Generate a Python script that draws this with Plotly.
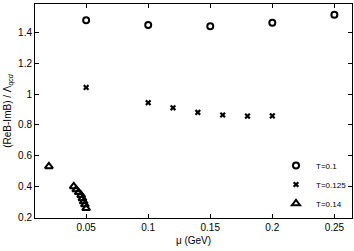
import plotly.graph_objects as go

mu_t1 = [0.05, 0.1, 0.15, 0.2, 0.25]
val_t1 = [1.48, 1.448, 1.44, 1.463, 1.515]

mu_t2 = [0.05, 0.1, 0.12, 0.14, 0.16, 0.18, 0.2]
val_t2 = [1.043, 0.944, 0.911, 0.881, 0.864, 0.857, 0.858]

mu_t3 = [0.02, 0.040, 0.042, 0.044, 0.046, 0.047, 0.048, 0.049, 0.050]
val_t3 = [0.53, 0.400, 0.380, 0.362, 0.343, 0.322, 0.302, 0.282, 0.258]

x_ticks = [0.05, 0.1, 0.15, 0.2, 0.25]
x_labels = ["0.05", "0.1", "0.15", "0.2", "0.25"]
y_ticks = [0.2, 0.4, 0.6, 0.8, 1.0, 1.2, 1.4]
y_labels = ["0.2", "0.4", "0.6", "0.8", "1", "1.2", "1.4"]

fig = go.Figure()
fig.add_trace(go.Scatter(x=mu_t1, y=val_t1, mode="markers", name="T=0.1",
                         marker=dict(symbol="circle-open", size=6, color="black",
                                     line=dict(width=2, color="black"))))
fig.add_trace(go.Scatter(x=mu_t2, y=val_t2, mode="markers", name="T=0.125",
                         marker=dict(symbol="x", size=5.5, color="black",
                                     line=dict(width=0, color="black"))))
fig.add_trace(go.Scatter(x=mu_t3, y=val_t3, mode="markers", name="T=0.14",
                         marker=dict(symbol="triangle-up-open", size=7, color="black",
                                     line=dict(width=2, color="black"))))

axis_common = dict(showgrid=False, zeroline=False, showline=True, linecolor="black",
                   linewidth=1, mirror="ticks", ticks="inside", ticklen=4,
                   tickcolor="black", tickfont=dict(size=10, color="black"))

fig.update_layout(
    width=354, height=251,
    margin=dict(l=35, r=2, t=4, b=33, autoexpand=False),
    paper_bgcolor="white", plot_bgcolor="white",
    font=dict(family="Liberation Sans, Arial, sans-serif", size=10, color="black"),
    showlegend=True,
    legend=dict(x=1.0, y=0.0, xanchor="right", yanchor="bottom",
                bgcolor="rgba(0,0,0,0)", font=dict(size=8), tracegroupgap=0),
    xaxis=dict(range=[0.0088, 0.2642], tickvals=x_ticks, ticktext=x_labels,
               title=dict(text="μ (GeV)", font=dict(size=10), standoff=4), **axis_common),
    yaxis=dict(range=[0.195, 1.585], tickvals=y_ticks, ticktext=y_labels,
               title=dict(text="(ReB-ImB) / Λ<sub><i>qcd</i></sub>", font=dict(size=10), standoff=4),
               **axis_common),
)

fig.write_html("out.html", config={"displayModeBar": False},
               post_script="document.body.style.margin='0';document.body.style.overflow='hidden';")
